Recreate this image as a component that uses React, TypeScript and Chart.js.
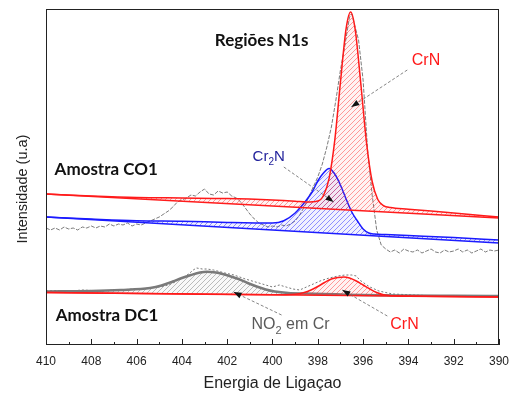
import React, { useEffect, useRef } from 'react';
import { Chart, registerables } from 'chart.js';
Chart.register(...registerables);

// ---------- data (x = binding energy eV, y = intensity a.u.) ----------
const xTickLabels = [410, 408, 406, 404, 402, 400, 398, 396, 394, 392, 390];
const xMinorTicks = [409, 407, 405, 403, 401, 399, 397, 395, 393, 391];

// Amostra CO1
const co1RedBase = [[410, 151], [390, 127]];
const co1RedFit = [
  [410, 151], [408, 149], [406, 147.5], [404, 147], [402, 146.5], [400, 145], [399, 143.8],
  [398.5, 143], [398, 144], [397.75, 149.5], [397.5, 166.6], [397.25, 204.8], [397, 262.8],
  [396.75, 316.4], [396.55, 333], [396.35, 315.7], [396.1, 261.3], [395.85, 202.5],
  [395.6, 163.5], [395.35, 145.5], [395.1, 139.4], [394.8, 137.4], [394, 135.8], [392, 132], [390, 128],
];
const co1BlueBase = [[410, 128], [390, 102]];
const co1BlueFit = [
  [410, 128], [408, 126], [406, 124.3], [404, 123.7], [402, 122.6], [400, 122], [399.5, 124.3],
  [399, 132], [398.5, 145], [398.25, 153], [398, 164], [397.75, 172], [397.5, 176.5],
  [397.25, 171], [397, 160], [396.75, 146], [396.5, 133], [396.25, 124], [396, 116],
  [395.75, 112], [395.5, 111], [395, 110.5], [394, 109.5], [392, 107.5], [390, 105],
];
const co1Raw = [
  [410, 117], [409.8, 115], [409.6, 117], [409.4, 115], [409.2, 118], [409, 116], [408.8, 117],
  [408.6, 115], [408.4, 118], [408.2, 117], [408, 119], [407.8, 117], [407.6, 119], [407.4, 118],
  [407.2, 121], [407, 119], [406.8, 121], [406.6, 120], [406.4, 122], [406.2, 119], [406, 121],
  [405.8, 120], [405.6, 122], [405.4, 124], [405.2, 126], [405, 128], [404.8, 131], [404.6, 134],
  [404.4, 138], [404.2, 143], [404, 145], [403.8, 147], [403.6, 150], [403.4, 149], [403.2, 153],
  [403, 156], [402.8, 151], [402.6, 150], [402.4, 154], [402.2, 152], [402, 153], [401.8, 149],
  [401.6, 147], [401.4, 143], [401.2, 137], [401, 131], [400.8, 126], [400.6, 122], [400.4, 120],
  [400.2, 118], [400, 119], [399.8, 118], [399.6, 120], [399.4, 119], [399.2, 121], [399, 124],
  [398.8, 130], [398.6, 138], [398.4, 148], [398.2, 158], [398, 168], [397.8, 181], [397.6, 198],
  [397.4, 218], [397.2, 245], [397, 275], [396.8, 300], [396.6, 328], [396.5, 331], [396.4, 322],
  [396.2, 305], [396, 265], [395.8, 195], [395.6, 150], [395.4, 115], [395.2, 100], [395, 96],
  [394.8, 93], [394.6, 95], [394.4, 92], [394.2, 96], [394, 94], [393.8, 93], [393.6, 95],
  [393.4, 92], [393.2, 94], [393, 96], [392.8, 93], [392.6, 92], [392.4, 95], [392.2, 93],
  [392, 94], [391.8, 96], [391.6, 93], [391.4, 95], [391.2, 92], [391, 94], [390.8, 96],
  [390.6, 93], [390.4, 95], [390.2, 94], [390, 95],
];

// Amostra DC1
const dc1Base = [[410, 52.5], [390, 48]];
const dc1No2Fit = [
  [410, 53.5], [408, 54], [406.7, 55], [405.4, 57], [404.9, 59.5], [404.4, 63.5], [404, 67],
  [403.6, 70], [403.2, 72.5], [402.9, 73.3], [402.5, 72.5], [402.2, 71], [401.9, 69], [401.5, 66],
  [401.1, 62], [400.7, 58.5], [400.3, 55.5], [399.9, 53.5], [399.3, 52], [398.5, 51.5], [396, 50], [390, 49],
];
const dc1CrNFit = [
  [410, 52.5], [404, 51], [400, 50.3], [399, 50.8], [398.6, 52.5], [398.3, 55], [398, 58.5],
  [397.7, 62.5], [397.4, 66], [397.1, 67.5], [396.85, 68], [396.6, 67], [396.3, 64], [396, 60],
  [395.7, 56], [395.4, 52.5], [395.1, 50.2], [394.7, 49.2], [394, 48.8], [390, 48],
];
const dc1Raw = [
  [410, 54], [409.5, 54.5], [408.9, 54], [408.4, 55], [407.6, 54], [407, 55], [406.7, 55],
  [406.2, 56], [405.9, 56], [405.4, 57], [405, 58], [404.6, 60], [404.3, 63], [404, 67],
  [403.7, 71], [403.5, 75], [403.35, 77], [403.1, 76], [402.9, 76], [402.6, 75], [402.1, 72],
  [401.7, 70], [401.2, 66], [400.6, 62], [400, 58], [399.7, 60], [399.4, 58], [399.1, 56],
  [398.8, 55], [398.5, 58], [398.2, 61], [397.9, 64], [397.5, 67], [397.1, 69], [396.8, 70],
  [396.5, 70], [396.3, 69], [396.15, 65], [395.9, 61], [395.7, 58], [395.3, 54], [394.7, 51],
  [394.2, 50.5], [393.8, 50], [393.2, 49.5], [392.6, 49.5], [392, 49], [391.3, 49], [390.7, 49.5], [390, 49],
];

// annotations (data coordinates)
const titleText = 'Regiões N1s';
const sampleLabels = [
  { text: 'Amostra CO1', x: 409.62, y: 175 },
  { text: 'Amostra DC1', x: 409.57, y: 29 },
];
const arrows = [
  { from: [394.05, 275], to: [396.52, 238] },
  { from: [399.5, 178], to: [397.3, 143] },
  { from: [399.6, 30], to: [401.72, 53] },
  { from: [394.93, 29], to: [396.92, 55] },
];

const pts = (a: number[][]) => a.map(([x, y]) => ({ x, y }));
const SANS = '"Liberation Sans", Arial, sans-serif';

function makeHatch(ctx: CanvasRenderingContext2D, line: string, bg: string) {
  const c = document.createElement('canvas');
  c.width = 5; c.height = 5;
  const g = c.getContext('2d')!;
  g.fillStyle = bg; g.fillRect(0, 0, 5, 5);
  g.strokeStyle = line; g.lineWidth = 0.9;
  g.beginPath();
  g.moveTo(0, 5); g.lineTo(5, 0);
  g.moveTo(-1, 1); g.lineTo(1, -1);
  g.moveTo(4, 6); g.lineTo(6, 4);
  g.stroke();
  return ctx.createPattern(c, 'repeat')!;
}

function drawRich(ctx: CanvasRenderingContext2D, parts: { t: string; sub?: boolean }[], x: number, y: number, size: number, color: string) {
  ctx.fillStyle = color;
  ctx.textBaseline = 'middle';
  ctx.textAlign = 'left';
  let cx = x;
  for (const p of parts) {
    if (p.sub) {
      ctx.font = `${Math.round(size * 0.68)}px ${SANS}`;
      ctx.fillText(p.t, cx, y + size * 0.38);
    } else {
      ctx.font = `${size}px ${SANS}`;
      ctx.fillText(p.t, cx, y);
    }
    cx += ctx.measureText(p.t).width;
  }
}

function drawArrow(ctx: CanvasRenderingContext2D, x1: number, y1: number, x2: number, y2: number) {
  ctx.save();
  ctx.strokeStyle = '#666';
  ctx.lineWidth = 0.8;
  ctx.setLineDash([3, 2]);
  ctx.beginPath(); ctx.moveTo(x1, y1); ctx.lineTo(x2, y2); ctx.stroke();
  ctx.setLineDash([]);
  const ang = Math.atan2(y2 - y1, x2 - x1);
  const L = 8, W = 3;
  ctx.fillStyle = '#111';
  ctx.beginPath();
  ctx.moveTo(x2, y2);
  ctx.lineTo(x2 - L * Math.cos(ang) + W * Math.sin(ang), y2 - L * Math.sin(ang) - W * Math.cos(ang));
  ctx.lineTo(x2 - L * Math.cos(ang) - W * Math.sin(ang), y2 - L * Math.sin(ang) + W * Math.cos(ang));
  ctx.closePath(); ctx.fill();
  ctx.restore();
}

const decorPlugin = {
  id: 'decor',
  afterDatasetsDraw(chart: any) {
    const { ctx, chartArea: a, scales } = chart;
    const xs = scales.x, ys = scales.y;
    const X = (v: number) => xs.getPixelForValue(v);
    const Y = (v: number) => ys.getPixelForValue(v);
    ctx.save();
    // frame
    ctx.strokeStyle = '#222';
    ctx.lineWidth = 1;
    ctx.strokeRect(a.left + 0.5, a.top + 0.5, a.right - a.left - 1, a.bottom - a.top - 1);
    // ticks (inside)
    ctx.beginPath();
    for (const v of xTickLabels) {
      const px = Math.round(X(v)) + 0.5;
      ctx.moveTo(px, a.bottom); ctx.lineTo(px, a.bottom - 6);
    }
    for (const v of xMinorTicks) {
      const px = Math.round(X(v)) + 0.5;
      ctx.moveTo(px, a.bottom); ctx.lineTo(px, a.bottom - 3);
    }
    ctx.stroke();

    // y title
    ctx.save();
    ctx.translate(23, (a.top + a.bottom) / 2 + 12);
    ctx.rotate(-Math.PI / 2);
    ctx.font = `14.5px ${SANS}`;
    ctx.fillStyle = '#222';
    ctx.textAlign = 'center';
    ctx.textBaseline = 'middle';
    ctx.fillText('Intensidade (u.a)', 0, 0);
    ctx.restore();

    // bold labels
    ctx.font = 'bold 17px Lato, "Open Sans", sans-serif';
    ctx.fillStyle = '#111';
    ctx.textBaseline = 'middle';
    ctx.textAlign = 'center';
    ctx.fillText(titleText, X(400.48), Y(304));
    ctx.textAlign = 'left';
    for (const s of sampleLabels) ctx.fillText(s.text, X(s.x), Y(s.y));

    // component labels
    drawRich(ctx, [{ t: 'CrN' }], X(393.85), Y(284), 16, '#ff1a1a');
    drawRich(ctx, [{ t: 'Cr' }, { t: '2', sub: true }, { t: 'N' }], X(400.88), Y(188), 15, '#22229c');
    drawRich(ctx, [{ t: 'NO' }, { t: '2', sub: true }, { t: ' em Cr' }], X(400.93), Y(20), 16, '#5a5a5a');
    drawRich(ctx, [{ t: 'CrN' }], X(394.8), Y(20), 16, '#ff1a1a');

    for (const ar of arrows) drawArrow(ctx, X(ar.from[0]), Y(ar.from[1]), X(ar.to[0]), Y(ar.to[1]));
    ctx.restore();
  },
};

export default function App() {
  const ref = useRef<HTMLCanvasElement>(null);
  useEffect(() => {
    const canvas = ref.current!;
    const ctx = canvas.getContext('2d')!;
    const redHatch = makeHatch(ctx, 'rgba(255,40,40,0.5)', 'rgba(255,80,80,0.07)');
    const blueHatch = makeHatch(ctx, 'rgba(40,40,255,0.55)', 'rgba(80,80,255,0.08)');
    const grayHatch = makeHatch(ctx, 'rgba(110,110,110,0.5)', 'rgba(120,120,120,0.05)');
    const line = (data: number[][], color: string, width: number, extra: any = {}) => ({
      data: pts(data), borderColor: color, borderWidth: width, pointRadius: 0,
      fill: false, cubicInterpolationMode: 'monotone', ...extra,
    });
    const chart = new Chart(ctx, {
      type: 'line',
      data: {
        datasets: [
          line(co1RedFit, '#ff1a1a', 1.5, { fill: 1, backgroundColor: redHatch, order: 1 }),
          line(co1RedBase, '#ff1a1a', 1.5, { order: 1 }),
          line(co1BlueFit, '#1a1aff', 1.5, { fill: 3, backgroundColor: blueHatch, order: 1 }),
          line(co1BlueBase, '#1a1aff', 1.5, { order: 1 }),
          line(dc1No2Fit, '#7a7a7a', 2.5, { fill: 6, backgroundColor: grayHatch, order: 3 }),
          line(dc1CrNFit, '#ff1a1a', 1.5, { fill: 6, backgroundColor: redHatch, order: 1 }),
          line(dc1Base, '#ff1a1a', 1.5, { order: 1 }),
          line(co1Raw, '#5a5a5a', 0.8, { borderDash: [4, 1.5], cubicInterpolationMode: 'default', tension: 0, order: 5 }),
          line(dc1Raw, '#777', 1, { borderDash: [2, 2], cubicInterpolationMode: 'default', tension: 0, order: 5 }),
        ] as any,
      },
      options: {
        animation: false,
        responsive: false,
        layout: { padding: { left: 46, right: 18, top: 9, bottom: 0 } },
        plugins: { legend: { display: false }, tooltip: { enabled: false } },
        scales: {
          x: {
            type: 'linear', min: 390, max: 410, reverse: true,
            afterBuildTicks: (s: any) => { s.ticks = xTickLabels.map((v) => ({ value: v })); },
            afterFit: (s: any) => { s.height = 51; },
            grid: { display: false, drawTicks: false },
            border: { display: false },
            ticks: { padding: 9, color: '#222', font: { size: 12, family: SANS }, maxRotation: 0, autoSkip: false },
            title: { display: true, text: 'Energia de Ligaçao', color: '#222', padding: { top: 0, bottom: 3 }, font: { size: 16, family: SANS } },
          },
          y: { type: 'linear', min: 0, max: 336, display: false },
        },
      } as any,
      plugins: [decorPlugin],
    });
    return () => chart.destroy();
  }, []);
  return (
    <div style={{ position: 'fixed', left: 0, top: 0, width: 518, height: 396, background: '#fff' }}>
      <canvas ref={ref} width={518} height={396} style={{ display: 'block' }} />
    </div>
  );
}
